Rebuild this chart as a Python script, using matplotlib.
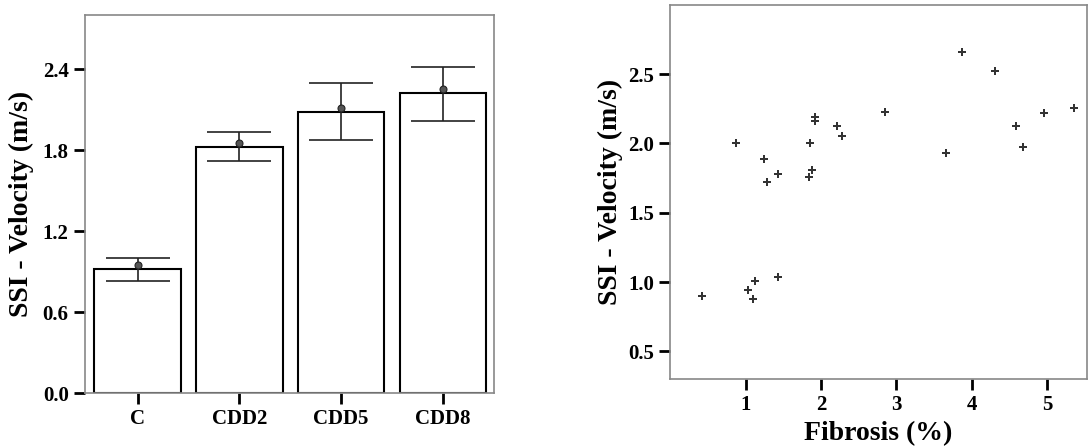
import numpy as np
import matplotlib
matplotlib.use("Agg")
from matplotlib import pyplot as plt

plt.rcParams['font.family'] = ['Liberation Serif', 'DejaVu Serif']
plt.rcParams['font.weight'] = 'bold'

# bar chart data
groups = ['C', 'CDD2', 'CDD5', 'CDD8']
bar_heights = [0.923, 1.827, 2.086, 2.224]
mean_dots = [0.950, 1.856, 2.116, 2.254]
err_low = [0.834, 1.719, 1.874, 2.019]
err_high = [1.000, 1.933, 2.301, 2.419]

# scatter data
fibrosis = [0.42, 0.867, 1.031, 1.093, 1.128, 1.243, 1.288, 1.425, 1.425,
            1.841, 1.858, 1.881, 1.920, 1.920, 2.217, 2.274, 2.845, 3.655,
            3.872, 4.310, 4.584, 4.686, 4.956, 5.358]
velocity = [0.898, 2.002, 0.941, 0.881, 1.005, 1.887, 1.724, 1.781, 1.034,
            1.760, 2.002, 1.810, 2.193, 2.160, 2.126, 2.054, 2.227, 1.932,
            2.663, 2.526, 2.126, 1.975, 2.220, 2.256]

fig = plt.figure(figsize=(10.88, 4.46), dpi=100)
ax1 = fig.add_axes([0.0778, 0.118, 0.376, 0.848])
ax2 = fig.add_axes([0.616, 0.150, 0.383, 0.839])

spine_col = '#888888'

# left: bars
x = np.arange(len(groups))
ax1.bar(x, bar_heights, width=0.85, color='white', edgecolor='black', linewidth=1.5)
mid = [(lo + hi) / 2 for lo, hi in zip(err_low, err_high)]
half = [(hi - lo) / 2 for lo, hi in zip(err_low, err_high)]
ax1.errorbar(x, mid, yerr=half, fmt='none', ecolor='#222222', elinewidth=1.2,
             capsize=23, capthick=1.2)
ax1.plot(x, mean_dots, 'o', color='#555555', markeredgecolor='#222222',
         markersize=5, markeredgewidth=0.8)
ax1.set_xlim(-0.52, 3.5)
ax1.set_ylim(0, 2.8)
ax1.set_yticks([0.0, 0.6, 1.2, 1.8, 2.4])
ax1.set_yticklabels(['0.0', '0.6', '1.2', '1.8', '2.4'])
ax1.set_xticks(x)
ax1.set_xticklabels(groups)
ax1.set_ylabel('SSI - Velocity (m/s)', fontsize=20, fontweight='bold', labelpad=6)

# right: scatter
ax2.scatter(fibrosis, velocity, marker='P', s=34, color='#333333', linewidths=0)
ax2.set_xlim(0, 5.53)
ax2.set_ylim(0.30, 3.0)
ax2.set_xticks([1, 2, 3, 4, 5])
ax2.set_yticks([0.5, 1.0, 1.5, 2.0, 2.5])
ax2.set_yticklabels(['0.5', '1.0', '1.5', '2.0', '2.5'])
ax2.set_ylabel('SSI - Velocity (m/s)', fontsize=20, fontweight='bold', labelpad=4)
ax2.set_xlabel('Fibrosis (%)', fontsize=20, fontweight='bold')

for ax in (ax1, ax2):
    for s in ax.spines.values():
        s.set_color(spine_col)
        s.set_linewidth(1.2)
    ax.tick_params(axis='both', direction='out', length=8, width=2,
                   color='black', labelsize=15)
    for lab in ax.get_xticklabels() + ax.get_yticklabels():
        lab.set_fontweight('bold')

fig.savefig('out.png', dpi=100)
